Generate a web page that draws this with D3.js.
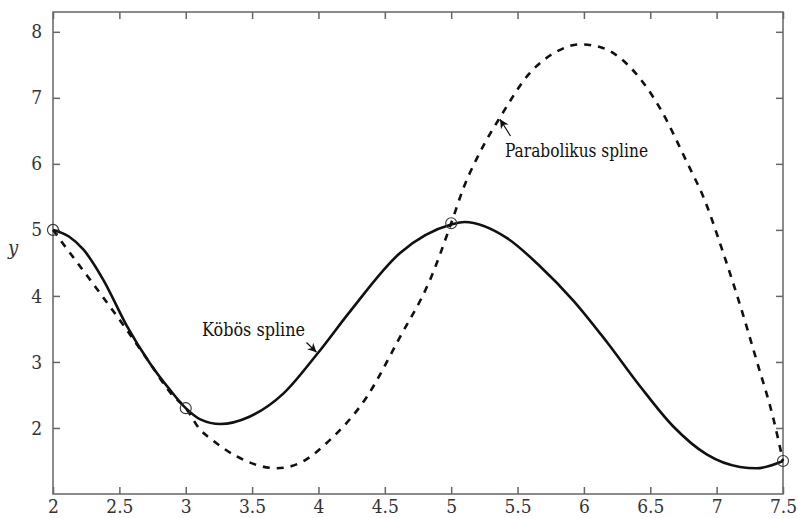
<!DOCTYPE html>
<html>
<head>
<meta charset="utf-8">
<script src="https://cdn.jsdelivr.net/npm/d3@7"></script>
<style>
  body { margin: 0; background: #fff; }
</style>
</head>
<body>
<div id="chart"></div>
<script>
// Datos
const knotX = [2, 3, 5, 7.5];
const knotY = [5.0, 2.3, 5.1, 1.5];

// Spline cúbico (línea sólida)
const cubicX = [2.0, 2.12, 2.23, 2.38, 2.555, 2.73, 2.88, 3.0, 3.11, 3.26, 3.48, 3.735, 3.99, 4.24, 4.615, 5.0, 5.1, 5.418, 5.669, 5.92, 6.17, 6.42, 6.67, 6.925, 7.176, 7.30, 7.5];
const cubicY = [5.0, 4.90, 4.70, 4.24, 3.55, 2.98, 2.58, 2.3, 2.13, 2.06, 2.17, 2.52, 3.12, 3.77, 4.65, 5.08, 5.12, 4.88, 4.45, 3.93, 3.31, 2.64, 2.03, 1.60, 1.41, 1.39, 1.5];

// Spline parabólico (línea discontinua)
const paraX = [2.0, 2.08, 2.30, 2.54, 2.73, 2.89, 3.0, 3.11, 3.18, 3.384, 3.686, 3.86, 4.087, 4.364, 4.615, 4.84, 5.0, 5.09, 5.218, 5.37, 5.59, 5.795, 5.97, 6.12, 6.32, 6.574, 6.775, 6.91, 7.05, 7.18, 7.30, 7.43, 7.5];
const paraY = [5.0, 4.78, 4.19, 3.53, 2.98, 2.52, 2.3, 1.97, 1.85, 1.57, 1.39, 1.47, 1.82, 2.47, 3.38, 4.24, 5.1, 5.62, 6.18, 6.71, 7.37, 7.70, 7.81, 7.77, 7.52, 6.84, 6.03, 5.45, 4.65, 3.84, 3.03, 2.12, 1.5];

const xTicks = [2, 2.5, 3, 3.5, 4, 4.5, 5, 5.5, 6, 6.5, 7, 7.5];
const yTicks = [2, 3, 4, 5, 6, 7, 8];

const WIDTH = 798, HEIGHT = 518;
const margin = { left: 53, right: 15, top: 12, bottom: 24 };
const SERIF = "'DejaVu Serif Condensed', 'DejaVu Serif', serif";

const svg = d3.select("#chart").append("svg")
  .attr("width", WIDTH).attr("height", HEIGHT);

const x = d3.scaleLinear().domain([2, 7.5]).range([margin.left, WIDTH - margin.right]);
const y = d3.scaleLinear().domain([1, 8.3]).range([HEIGHT - margin.bottom, margin.top]);

const axisColor = "#666";
const tickLen = 7;

// Marco
svg.append("rect")
  .attr("x", x(2)).attr("y", y(8.3))
  .attr("width", x(7.5) - x(2)).attr("height", y(1) - y(8.3))
  .attr("fill", "none").attr("stroke", axisColor).attr("stroke-width", 1.5);

// Ejes con ticks hacia adentro
function styleAxis(g) {
  g.attr("font-family", SERIF).attr("font-size", 19);
  g.select(".domain").remove();
  g.selectAll(".tick line").attr("stroke", axisColor).attr("stroke-width", 1.5);
  g.selectAll(".tick text").attr("fill", "#333").style("font-family", SERIF);
}

svg.append("g")
  .attr("transform", `translate(0,${y(1)})`)
  .call(d3.axisBottom(x).tickValues(xTicks).tickSizeInner(-tickLen).tickPadding(6).tickFormat(d3.format("")))
  .call(styleAxis);

svg.append("g")
  .attr("transform", `translate(0,${y(8.3)})`)
  .call(d3.axisTop(x).tickValues(xTicks).tickSizeInner(-tickLen).tickFormat(""))
  .call(styleAxis);

svg.append("g")
  .attr("transform", `translate(${x(2)},0)`)
  .call(d3.axisLeft(y).tickValues(yTicks).tickSizeInner(-tickLen).tickPadding(11).tickFormat(d3.format("d")))
  .call(styleAxis);

svg.append("g")
  .attr("transform", `translate(${x(7.5)},0)`)
  .call(d3.axisRight(y).tickValues(yTicks).tickSizeInner(-tickLen).tickFormat(""))
  .call(styleAxis);

// Etiqueta del eje y
svg.append("text")
  .attr("x", 13).attr("y", 255)
  .attr("text-anchor", "middle")
  .style("font-family", SERIF)
  .attr("font-size", 20).attr("font-style", "italic")
  .attr("fill", "#333")
  .text("y");

// curveMonotoneX: la curva es función de x
const line = d3.line()
  .x(d => x(d[0])).y(d => y(d[1]))
  .curve(d3.curveMonotoneX);

// Curva parabólica
svg.append("path")
  .datum(d3.zip(paraX, paraY))
  .attr("d", line)
  .attr("fill", "none").attr("stroke", "#111")
  .attr("stroke-width", 2.6).attr("stroke-dasharray", "7,7");

// Curva cúbica
svg.append("path")
  .datum(d3.zip(cubicX, cubicY))
  .attr("d", line)
  .attr("fill", "none").attr("stroke", "#111")
  .attr("stroke-width", 2.6);

// Puntos
svg.append("g").selectAll("circle")
  .data(d3.zip(knotX, knotY))
  .enter().append("circle")
  .attr("cx", d => x(d[0])).attr("cy", d => y(d[1]))
  .attr("r", 5.5)
  .attr("fill", "none").attr("stroke", "#333").attr("stroke-width", 1.1);

// Flechas
svg.append("defs").append("marker")
  .attr("id", "arrow")
  .attr("viewBox", "0 0 10 10")
  .attr("refX", 10).attr("refY", 5)
  .attr("markerWidth", 9).attr("markerHeight", 9)
  .attr("markerUnits", "userSpaceOnUse")
  .attr("orient", "auto")
  .append("path").attr("d", "M0,0 L10,5 L0,10 L3,5 Z").attr("fill", "#111");

const annotations = [
  { label: "Köbös spline", tx: 202, ty: 336, len: 103, from: [306.5, 342.5], to: [316.5, 352.3] },
  { label: "Parabolikus spline", tx: 505, ty: 157, len: 143, from: [510.5, 136], to: [500, 119.3] }
];

annotations.forEach(a => {
  svg.append("line")
    .attr("x1", a.from[0]).attr("y1", a.from[1])
    .attr("x2", a.to[0]).attr("y2", a.to[1])
    .attr("stroke", "#111").attr("stroke-width", 1.2)
    .attr("marker-end", "url(#arrow)");
  svg.append("text")
    .attr("x", a.tx).attr("y", a.ty)
    .style("font-family", SERIF)
    .attr("font-size", 18.5).attr("fill", "#111")
    .attr("textLength", a.len).attr("lengthAdjust", "spacingAndGlyphs")
    .text(a.label);
});
</script>
</body>
</html>
